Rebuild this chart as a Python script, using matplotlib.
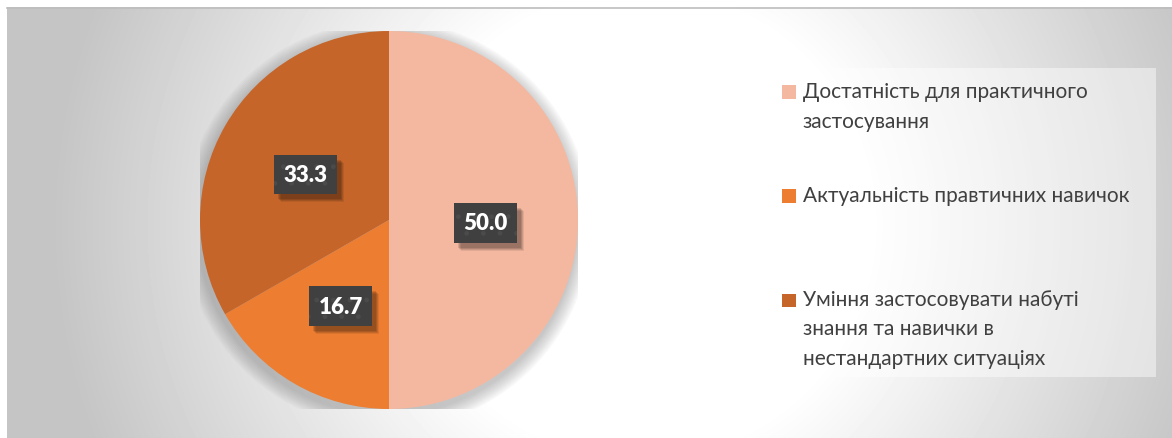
import numpy as np
import matplotlib
matplotlib.use("Agg")
import matplotlib.pyplot as plt
from matplotlib.patches import Rectangle, Circle
from matplotlib.transforms import offset_copy
from matplotlib.legend_handler import HandlerPatch

plt.rcParams['font.family'] = ['Lato', 'DejaVu Sans']

# data
labels = ['Достатність для практичного\nзастосування',
          'Актуальність правтичних навичок\n',
          'Уміння застосовувати набуті\nзнання та навички в\nнестандартних ситуаціях']
values = [50.0, 16.7, 33.3]
colors = ['#F4B8A0', '#ED7D31', '#C5652A']

W, H = 1172, 439
fig = plt.figure(figsize=(W / 100, H / 100), dpi=100)
fig.patch.set_facecolor('white')

# background gradient panel (radial, white in the middle)
bg = fig.add_axes([7 / W, 0, (W - 7) / W, (H - 8) / H])
bg.set_axis_off()
yy, xx = np.mgrid[8:439, 7:1172]
d = np.hypot(xx - 640, yy - 225)
t = np.clip((d - 230) / 360.0, 0, 1)
shade = 1.0 - 0.23 * t
bg.imshow(shade, cmap='gray', vmin=0, vmax=1, aspect='auto',
          extent=[0, 1, 0, 1], origin='upper', interpolation='bilinear')
bg.set_xlim(0, 1)
bg.set_ylim(0, 1)
fig.add_artist(plt.Line2D([7 / W, 1], [(H - 8.5) / H] * 2, color='#bdbdbd', lw=1.2))

# pie
cx, cy, r = 389, 221, 189
ax = fig.add_axes([(cx - r) / W, (H - cy - r) / H, 2 * r / W, 2 * r / H])
ax.set_axis_off()
for k in range(10):
    ax.add_patch(Circle((-0.01, -0.025), 1 + 0.008 * (k + 1), color='#6f6f6f',
                        alpha=0.045, lw=0, zorder=0))
wedges, texts = ax.pie(values, colors=colors, startangle=90, counterclock=False,
                       radius=1, wedgeprops=dict(linewidth=0), labels=None)
ax.set_xlim(-1, 1)
ax.set_ylim(-1, 1)

for w, v in zip(wedges, values):
    ang = np.deg2rad((w.theta1 + w.theta2) / 2)
    x, y = 0.51 * np.cos(ang), 0.51 * np.sin(ang) - 0.015
    for dx, dy, a in [(7, -8, 0.08), (6, -7, 0.1), (5, -6, 0.12), (4, -5, 0.12)]:
        sh = offset_copy(ax.transData, fig=fig, x=dx, y=dy, units='dots')
        ax.text(x, y, f'{v:.1f}', transform=sh, ha='center', va='center',
                fontsize=16, fontweight='heavy', color='none', zorder=4,
                bbox=dict(boxstyle='square,pad=0.42', fc='black', alpha=a, lw=0))
    ax.text(x, y, f'{v:.1f}', ha='center', va='center', fontsize=16,
            fontweight='heavy', color='white', zorder=5,
            bbox=dict(boxstyle='square,pad=0.42', fc='#404040', ec='#4b4b4b',
                      lw=0, hatch='.'))

# legend panel
fig.patches.append(Rectangle((771 / W, (H - 378) / H), 385 / W, 309 / H,
                             transform=fig.transFigure, fc='white', alpha=0.45,
                             lw=0, zorder=1))

nlines = [lab.count('\n') + 1 for lab in labels]


def top_aligned(n):
    def make(legend, orig_handle, xdescent, ydescent, width, height, fontsize):
        shift = (n - 1) * 10.2
        return Rectangle((-xdescent, -ydescent + shift), width, height)
    return make


hmap = {w: HandlerPatch(patch_func=top_aligned(n)) for w, n in zip(wedges, nlines)}
leg = fig.legend(wedges, labels, loc='upper left', handler_map=hmap,
                 bbox_to_anchor=(782 / W, (H - 82) / H), frameon=False,
                 fontsize=15, labelcolor='#404040', handlelength=0.65,
                 handleheight=0.65, handletextpad=0.35, labelspacing=2.6,
                 borderpad=0, borderaxespad=0)
for tx in leg.get_texts():
    tx.set_linespacing(1.6)

fig.savefig('out.png', dpi=100)
